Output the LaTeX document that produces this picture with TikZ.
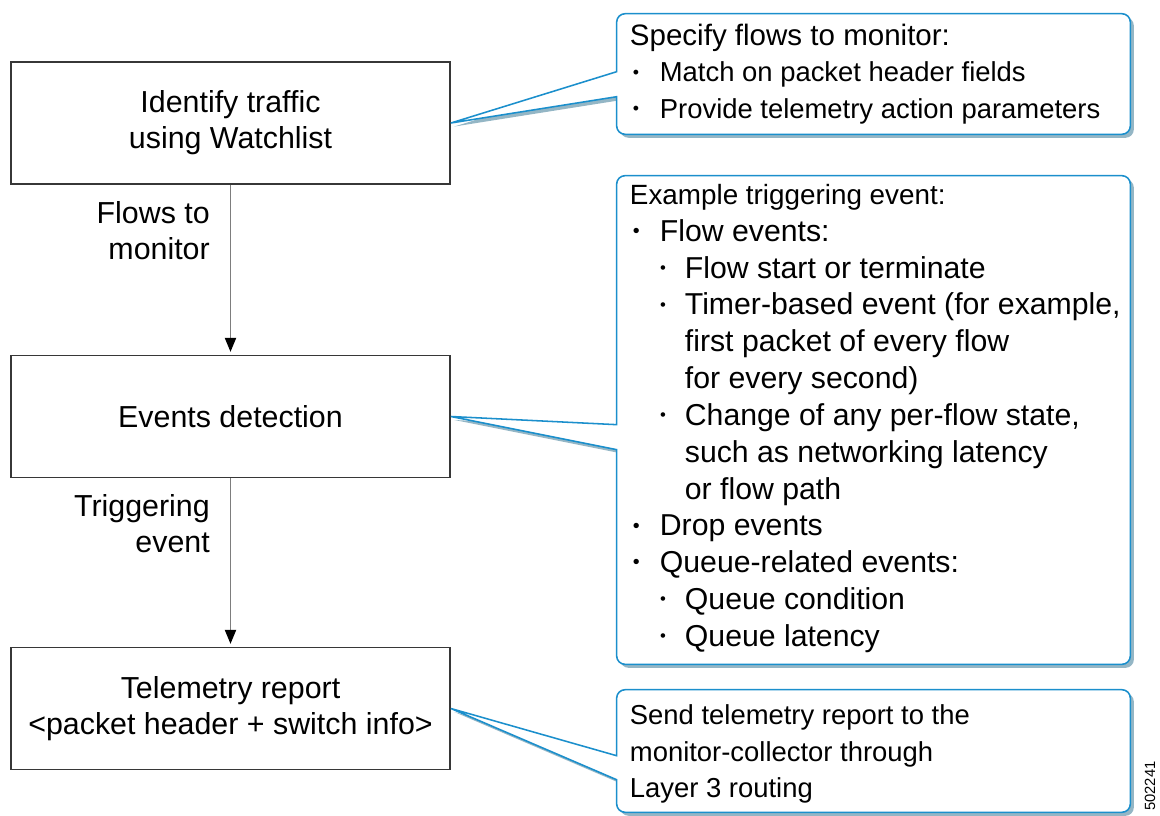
\documentclass[tikz,border=0pt]{standalone}
\usepackage{fontspec}
\setmainfont{Liberation Sans}
\usepackage{graphicx}
\usepackage{tikz}
\usetikzlibrary{shapes,arrows,arrows.meta}
\usetikzlibrary{calc}
\usetikzlibrary{shadows}

\definecolor{calloutblue}{RGB}{27,143,204}
\definecolor{shadowblue}{RGB}{60,122,150}
\definecolor{boxgray}{RGB}{55,55,55}
\definecolor{arrowgray}{RGB}{125,125,125}

\newcommand{\boxfont}{\fontsize{21.6}{25.5}\selectfont}
\newcommand{\notefont}{\fontsize{19.5}{26}\selectfont}
\newcommand{\bignotefont}{\fontsize{21.5}{26.2}\selectfont}
% bullets, first and second level
\newcommand{\dotA}{\raisebox{0.13em}{\scalebox{.65}{\textbullet}}}
\newcommand{\dotB}{\raisebox{0.16em}{\scalebox{.55}{\textbullet}}}
\newcommand{\itemA}{\hspace*{2.1pt}\makebox[19.2pt][l]{\dotA}}
\newcommand{\itemB}{\hspace*{21.4pt}\makebox[17.7pt][l]{\dotB}}
\newcommand{\contB}{\hspace*{39.1pt}}

\tikzset{
	stage/.style={draw=boxgray, line width=1.2pt, minimum width=10.975cm, minimum height=3.05cm, align=center, font=\boxfont, inner sep=0pt},
	frame/.style={minimum width=12.825cm, inner sep=0pt},
	note/.style={anchor=west, align=left, inner sep=0pt, font=\notefont},
	callout/.style={draw=calloutblue, line width=1.1pt, fill=white,
		drop shadow={shadow xshift=2.5pt, shadow yshift=-2.5pt, fill=shadowblue, opacity=.55}},
	flow/.style={draw=arrowgray, line width=1.1pt, -{Triangle[length=10pt,width=8pt,black]}, shorten >=2pt},
	lbl/.style={anchor=east, xshift=-14.2pt, inner sep=0pt, align=right, font=\boxfont}
}

\begin{document}
\begin{tikzpicture}[x=0.025cm, y=-0.025cm]
	\useasboundingbox (0,0) rectangle (1160,816);
	
	% stages on the left
	\node[stage] (b1) at (230.5,123) {Identify traffic\\using Watchlist};
	\node[stage] (b2) at (230.5,416.5) {Events detection};
	\node[stage] (b3) at (230.5,708.5) {Telemetry report\\<packet header + switch info>};
	
	\draw[flow] (b1) -- node[lbl, pos=.27] {Flows to\\monitor} (b2);
	\draw[flow] (b2) -- node[lbl, pos=.27] {Triggering\\event} (b3);
	
	% callout frames
	\node[frame, minimum height=3cm] (c1) at (873.5,74) {};
	\node[frame, minimum height=12.2cm] (c2) at (873.5,420) {};
	\node[frame, minimum height=3.05cm] (c3) at (873.5,751) {};
	
	% outlines with the pointer to each stage
	\draw[callout] (c1.south) [rounded corners=6pt] -- (c1.south east) -- (c1.north east) -- (c1.north west)
		[sharp corners] -- ($(c1.north west)+(0,58)$) -- (b1.east) -- ($(c1.north west)+(0,83)$)
		[rounded corners=6pt] -- (c1.south west) -- cycle;
	\draw[callout] (c2.south) [rounded corners=6pt] -- (c2.south east) -- (c2.north east) -- (c2.north west)
		[sharp corners] -- ($(c2.north west)+(0,249)$) -- (b2.east) -- ($(c2.north west)+(0,274)$)
		[rounded corners=6pt] -- (c2.south west) -- cycle;
	\draw[callout] (c3.south) [rounded corners=6pt] -- (c3.south east) -- (c3.north east) -- (c3.north west)
		[sharp corners] -- ($(c3.north west)+(0,66)$) -- (b3.east) -- ($(c3.north west)+(0,90)$)
		[rounded corners=6pt] -- (c3.south west) -- cycle;
	
	% callout texts
	\node[note] (n1) at ($(c1.west)+(13,0)$) {%
		{\fontsize{21}{26}\selectfont Specify flows to monitor:}\\
		\itemA Match on packet header fields\\
		\itemA Provide telemetry action parameters};
	\node[note, font=\bignotefont] (n2) at ($(c2.west)+(13,-1.5)$) {%
		{\fontsize{19.8}{26.2}\selectfont Example triggering event:}\\
		\itemA Flow events:\\
		\itemB Flow start or terminate\\
		\itemB Timer-based event (for example,\\
		\contB first packet of every flow\\
		\contB for every second)\\
		\itemB Change of any per-flow state,\\
		\contB such as networking latency\\
		\contB or flow path\\
		\itemA Drop events\\
		\itemA Queue-related events:\\
		\itemB Queue condition\\
		\itemB Queue latency};
	\node[note] (n3) at ($(c3.west)+(13,3)$) {%
		Send telemetry report to the\\
		monitor-collector through\\
		Layer 3 routing};
	
	% figure number
	\node[rotate=90, inner sep=0pt, font=\fontsize{10.5}{12}\selectfont] (fignum) at (1150,786) {502241};
\end{tikzpicture}
\end{document}
